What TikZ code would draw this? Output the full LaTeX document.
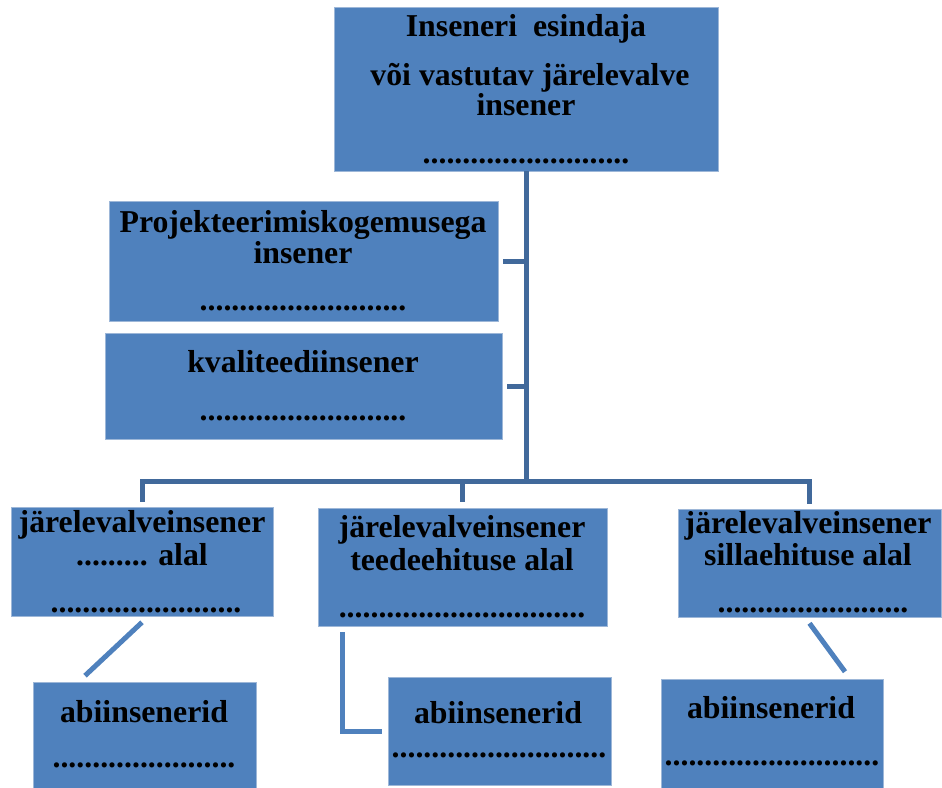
\documentclass[tikz,border=0pt]{standalone}
\usepackage{fontspec}
\setmainfont{Liberation Serif}
\usetikzlibrary{arrows}
\definecolor{boxblue}{HTML}{4F81BD}
\definecolor{boxedge}{HTML}{9DB7D8}
\definecolor{linkdark}{HTML}{41699B}
\tikzset{
  orgbox/.style = {rectangle, fill=boxblue, draw=boxedge, line width=0.6pt,
    inner sep=0pt},% kast
  orgtxt/.style = {inner sep=0pt, anchor=base,
    font=\fontsize{31.8}{31}\selectfont\bfseries},% kasti tekst
  trunk/.style = {draw=linkdark, line width=5pt},% peaharu
  link/.style = {draw=boxblue, line width=5pt}% abiinseneride haru
}
\begin{document}
\begin{tikzpicture}[x=1pt,y=-1pt]
  \useasboundingbox (0,0) rectangle (942,787);
  % kastid
  \node [orgbox, minimum width=384, minimum height=164] (top) at (526,89) {};
  \node [orgbox, minimum width=389, minimum height=120] (proj) at (303.5,261) {};
  \node [orgbox, minimum width=397, minimum height=106] (kval) at (303.5,386) {};
  \node [orgbox, minimum width=262, minimum height=109] (bl) at (142,561.5) {};
  \node [orgbox, minimum width=289, minimum height=118] (bm) at (462.5,567) {};
  \node [orgbox, minimum width=263, minimum height=108] (br) at (809.5,563) {};
  \node [orgbox, minimum width=223, minimum height=110] (abil) at (144.5,737) {};
  \node [orgbox, minimum width=223, minimum height=108] (abim) at (499.5,731) {};
  \node [orgbox, minimum width=222, minimum height=111] (abir) at (772,734.5) {};

  % tekstid
  \node [orgtxt] (top1) at (526,36) {Inseneri\ \ esindaja};
  \node [orgtxt] (top2) at (530,85) {või vastutav järelevalve};
  \node [orgtxt] (top3) at (526,115) {insener};
  \node [orgtxt] (top4) at (526,163) {..........................};
  \node [orgtxt] (proj1) at (303,232) {Projekteerimiskogemusega};
  \node [orgtxt] (proj2) at (303,263) {insener};
  \node [orgtxt] (proj3) at (303,310) {..........................};
  \node [orgtxt] (kval1) at (303,372) {kvaliteediinsener};
  \node [orgtxt] (kval2) at (303,420) {..........................};
  \node [orgtxt] (bl1) at (142,532) {järelevalveinsener};
  \node [orgtxt] (bl2) at (142,565) {......... alal};
  \node [orgtxt] (bl3) at (146,612) {........................};
  \node [orgtxt] (bm1) at (462,537) {järelevalveinsener};
  \node [orgtxt] (bm2) at (462,570) {teedeehituse alal};
  \node [orgtxt] (bm3) at (462,617) {...............................};
  \node [orgtxt] (br1) at (808,533) {järelevalveinsener};
  \node [orgtxt] (br2) at (808,565) {sillaehituse alal};
  \node [orgtxt] (br3) at (813,612) {........................};
  \node [orgtxt] (abil1) at (144,722) {abiinsenerid};
  \node [orgtxt] (abil2) at (144,767) {.......................};
  \node [orgtxt] (abim1) at (498,723) {abiinsenerid};
  \node [orgtxt] (abim2) at (499,757) {...........................};
  \node [orgtxt] (abir1) at (771,718) {abiinsenerid};
  \node [orgtxt] (abir2) at (772,765) {...........................};

  % harud
  \coordinate (bus) at (526,481);
  \draw [trunk] (top.south) -- (bus);
  \foreach \side in {proj,kval}
    \draw [trunk] ([xshift=5pt]\side.east) -- (\side.east -| bus);
  \draw [trunk] ([yshift=5pt]bl.north) |- (bus) -| ([yshift=5pt]br.north);
  \draw [trunk] ([yshift=6pt]bm.north) -- (bm.north |- bus);
  \draw [link] ([yshift=-6pt]bl.south) -- ([xshift=-59.5pt,yshift=6pt]abil.north);
  \draw [link] ([xshift=25pt,yshift=-6pt]bm.south west) |- ([xshift=-6pt]abim.west);
  \draw [link] ([yshift=-6pt]br.south) -- ([xshift=73pt,yshift=7pt]abir.north);
\end{tikzpicture}
\end{document}
